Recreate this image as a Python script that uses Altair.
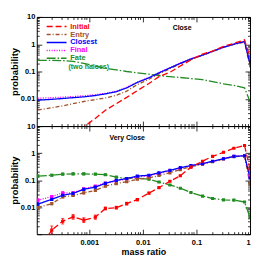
import altair as alt
import pandas as pd

FONT = "Liberation Sans"
W = 215
H_TOP = 110
H_BOT = 109
x_domain = [0.000105, 1.0]
y_domain = [0.001, 10.0]

mass_ratio = [0.00011, 0.0002, 0.00032, 0.0005, 0.00079, 0.0013, 0.002, 0.0032,
              0.005, 0.0079, 0.013, 0.02, 0.032, 0.05, 0.079, 0.13, 0.2, 0.32,
              0.5, 0.79, 1.0]

series_names = ["Initial", "Entry", "Closest", "Final", "Fate"]
series_colors = ["#ff0000", "#a0522d", "#0000ff", "#ff00ff", "#228b22"]
series_dashes = [[6, 3], [4, 2, 1, 2], [1, 0], [1, 1.5], [9, 2, 1.5, 2]]

# "Close" panel, log10(probability)
close_initial = [-4.3, -3.8, -3.5, -3.25, -3.03, -2.72, -2.42, -2.18, -1.95, -1.70, -1.44,
                 -1.19, -1.03, -0.80, -0.57, -0.36, -0.25, -0.08, 0.03, 0.16, -0.5]
close_entry = [-2.41, -2.33, -2.26, -2.18, -2.10, -2.03, -1.97, -1.87, -1.72, -1.48, -1.28,
               -1.09, -0.90, -0.72, -0.56, -0.41, -0.27, -0.12, -0.01, 0.08, -0.85]
close_closest = [-2.05, -2.02, -1.99, -1.96, -1.93, -1.88, -1.82, -1.74, -1.60, -1.40, -1.23,
                 -1.05, -0.87, -0.70, -0.54, -0.40, -0.26, -0.11, 0.0, 0.10, -0.72]
close_final = [-1.98, -1.96, -1.94, -1.92, -1.89, -1.85, -1.80, -1.72, -1.58, -1.39, -1.22,
               -1.04, -0.86, -0.69, -0.53, -0.39, -0.25, -0.10, 0.01, 0.10, -0.68]
close_fate = [-0.59, -0.59, -0.60, -0.63, -0.70, -0.80, -0.88, -0.94, -1.00, -1.05, -1.10,
              -1.15, -1.19, -1.22, -1.26, -1.30, -1.37, -1.45, -1.51, -1.60, -2.1]

# "Very Close" panel, log10(probability)
vclose_initial = [-3.6, -2.85, -2.52, -2.36, -2.48, -2.37, -2.05, -2.02, -1.87, -1.72, -1.48,
                  -1.28, -1.04, -0.84, -0.52, -0.30, -0.12, 0.03, 0.18, 0.28, -0.6]
vclose_entry = [-2.01, -1.87, -1.62, -1.57, -1.47, -1.38, -1.22, -1.13, -1.06, -0.97, -0.92,
                -0.83, -0.73, -0.61, -0.50, -0.41, -0.32, -0.22, -0.13, -0.11, -1.15]
vclose_closest = [-1.89, -1.71, -1.56, -1.49, -1.34, -1.26, -1.12, -1.01, -0.94, -0.85, -0.82,
                  -0.73, -0.64, -0.54, -0.46, -0.39, -0.30, -0.21, -0.12, -0.10, -0.92]
vclose_final = [-1.74, -1.61, -1.47, -1.47, -1.32, -1.22, -1.11, -1.03, -0.96, -0.88, -0.84,
                -0.75, -0.66, -0.57, -0.48, -0.40, -0.31, -0.21, -0.12, -0.10, -0.85]
vclose_fate = [-0.85, -0.82, -0.78, -0.77, -0.77, -0.78, -0.80, -0.89, -0.94, -0.92, -0.97,
               -1.07, -1.18, -1.30, -1.46, -1.59, -1.68, -1.73, -1.74, -1.81, -2.38]

# error bar half-widths (dex)
vclose_err_initial = [0.3, 0.15, 0.1, 0.09, 0.09, 0.08, 0.06, 0.05, 0.05, 0.04, 0.035,
                      0.03, 0.025, 0.02, 0.02, 0.015, 0.015, 0.015, 0.015, 0.015, 0.03]
vclose_err_other = [0.05, 0.04, 0.035, 0.03, 0.03, 0.025, 0.025, 0.02, 0.02, 0.02, 0.015,
                    0.015, 0.015, 0.01, 0.01, 0.01, 0.01, 0.01, 0.01, 0.01, 0.02]

panel_titles = ["Close", "Very Close"]
panel_title_x = [0.054, 0.0051]
panel_title_y = [3.8, 3.76]

fate_note = "(two haloes)"
fate_note_x = 0.00041
fate_note_y = 0.145

draw_order = ["Fate", "Final", "Entry", "Closest", "Initial"]


def build_df(lists, errs=None):
    rows = []
    for name in draw_order:
        i = series_names.index(name)
        for j, (x, lv) in enumerate(zip(mass_ratio, lists[i])):
            row = {"x": x, "p": 10 ** lv, "series": name}
            if errs is not None:
                e = errs[i][j]
                row["lo"] = 10 ** (lv - e)
                row["hi"] = 10 ** (lv + e)
            rows.append(row)
    return pd.DataFrame(rows)


close_df = build_df([close_initial, close_entry, close_closest, close_final, close_fate])
vclose_df = build_df(
    [vclose_initial, vclose_entry, vclose_closest, vclose_final, vclose_fate],
    [vclose_err_initial] + [vclose_err_other] * 4,
)

# tick positions (a hair inside the domain ends so that they are kept)
x_ticks = [k * 10.0 ** e for e in range(-4, 0) for k in range(1, 10)] + [0.99999]
x_ticks = [v for v in x_ticks if v >= x_domain[0]]
y_ticks = [1.0001e-3] + [k * 10.0 ** e for e in range(-3, 1) for k in range(1, 10)][1:] + [9.999]

major_test = "abs(log(datum.value)/LN10 - round(log(datum.value)/LN10)) < 0.001"
tick_size = {"condition": {"test": major_test, "value": 5}, "value": 2.5}


def inner_axis(orient, offset, values):
    return alt.Axis(orient=orient, offset=offset, values=values, labels=False,
                    domain=False, grid=False, title=None, ticks=True,
                    tickSize=tick_size, tickColor="black", tickWidth=0.8,
                    minExtent=0)


def main_y_axis(values, expr):
    return alt.Axis(orient="left", values=values, labelExpr=expr, ticks=False,
                    tickSize=0, domain=False, grid=False, title="probability",
                    titleFontSize=9.5, titlePadding=1, labelPadding=2, labelOverlap=False,
                    labelFontSize=7.5, minExtent=0)


def main_x_axis(show):
    return alt.Axis(orient="bottom", values=[0.001, 0.01, 0.1, 0.99999],
                    labelExpr="format(datum.value, '.1~g')", ticks=False, labels=show,
                    tickSize=0, domain=False, grid=False,
                    title="mass ratio" if show else None,
                    titleFontSize=9, titlePadding=2, labelPadding=4, labelOverlap=False,
                    labelFontSize=7.5, minExtent=0)


color_expr = "".join(
    f"datum.value == '{n}' ? '{c}' : " for n, c in zip(series_names[:-1], series_colors[:-1])
) + f"'{series_colors[-1]}'"

legend = alt.Legend(
    title=None, orient="none", legendX=6.25, legendY=6,
    symbolType="M-5,0H5", symbolSize=16, symbolStrokeWidth=1.5, symbolOffset=10,
    labelOffset=10, labelFont=FONT, labelFontSize=7.5, labelFontWeight="bold",
    labelColor=alt.ExprRef(expr=color_expr),
    rowPadding=-5, padding=0, labelLimit=0,
)


def panel(df, H, idx, y_vals, y_expr, show_legend, markers):
    xs = alt.Scale(type="log", domain=x_domain, nice=False)
    ys = alt.Scale(type="log", domain=y_domain, nice=False)
    lg = legend if show_legend else None
    color = alt.Color("series:N", scale=alt.Scale(domain=series_names, range=series_colors), legend=lg)
    dash = alt.StrokeDash("series:N", scale=alt.Scale(domain=series_names, range=series_dashes), legend=lg)
    base = alt.Chart(df)

    lines = base.mark_line(clip=True, strokeWidth=1.3).encode(
        x=alt.X("x:Q", scale=xs, axis=main_x_axis(markers)),
        y=alt.Y("p:Q", scale=ys, axis=main_y_axis(y_vals, y_expr)),
        color=color, strokeDash=dash,
    )
    layers = [lines]
    if markers:
        col = alt.Color("series:N", scale=alt.Scale(domain=series_names, range=series_colors), legend=None)
        bars = base.mark_rule(clip=True, strokeWidth=1).encode(
            x=alt.X("x:Q", scale=xs, axis=None),
            y=alt.Y("lo:Q", scale=ys, axis=None), y2="hi:Q", color=col,
        )
        cap_lo = base.mark_tick(clip=True, orient="horizontal", size=3, thickness=1).encode(
            x=alt.X("x:Q", scale=xs, axis=None),
            y=alt.Y("lo:Q", scale=ys, axis=None), color=col,
        )
        cap_hi = base.mark_tick(clip=True, orient="horizontal", size=3, thickness=1).encode(
            x=alt.X("x:Q", scale=xs, axis=None),
            y=alt.Y("hi:Q", scale=ys, axis=None), color=col,
        )
        pts = base.mark_point(clip=True, shape="square", filled=True, size=10, opacity=1).encode(
            x=alt.X("x:Q", scale=xs, axis=None),
            y=alt.Y("p:Q", scale=ys, axis=None), color=col,
        )
        layers += [bars, cap_lo, cap_hi, pts]

    title_df = pd.DataFrame({"x": [panel_title_x[idx]], "p": [panel_title_y[idx]],
                             "label": [panel_titles[idx]]})
    txt = alt.Chart(title_df).mark_text(font=FONT, fontWeight="bold", fontSize=7,
                                        color="black", baseline="middle").encode(
        x=alt.X("x:Q", scale=xs, axis=None),
        y=alt.Y("p:Q", scale=ys, axis=None),
        text="label:N",
    )
    layers.append(txt)

    if show_legend:
        note_df = pd.DataFrame({"x": [fate_note_x], "p": [fate_note_y], "label": [fate_note]})
        note = alt.Chart(note_df).mark_text(font=FONT, fontWeight="bold", fontSize=7,
                                            color=series_colors[4], align="left",
                                            baseline="middle").encode(
            x=alt.X("x:Q", scale=xs, axis=None),
            y=alt.Y("p:Q", scale=ys, axis=None),
            text="label:N",
        )
        layers.append(note)

    ax1 = base.mark_point(opacity=0).encode(
        x=alt.X("x:Q", scale=xs, axis=inner_axis("top", -H, x_ticks)),
        y=alt.Y("p:Q", scale=ys, axis=inner_axis("right", -W, y_ticks)),
    )
    ax2 = base.mark_point(opacity=0).encode(
        x=alt.X("x:Q", scale=xs, axis=inner_axis("bottom", -H, x_ticks)),
        y=alt.Y("p:Q", scale=ys, axis=inner_axis("left", -W, y_ticks)),
    )
    layers += [ax1, ax2]
    return alt.layer(*layers).resolve_axis(x="independent", y="independent").properties(
        width=W, height=H)


top = panel(close_df, H_TOP, 0, [1.0001e-3, 0.01, 0.1, 1.0, 9.999],
            "(datum.value < 0.005 || datum.value > 5) ? '10' : format(datum.value, '.1~g')",
            True, False)
bottom = panel(vclose_df, H_BOT, 1, [0.01, 0.1, 1.0],
               "format(datum.value, '.1~g')", False, True)

chart = alt.vconcat(top, bottom, spacing=0, bounds="flush").resolve_scale(
    color="independent", strokeDash="independent"
).properties(
    padding={"left": 0, "top": 3, "right": 0, "bottom": 0}
).configure_view(
    stroke="black", strokeWidth=1
).configure_axis(
    minExtent=0, labelFont=FONT, labelFontWeight="bold", labelColor="black",
    titleFont=FONT, titleFontWeight="bold", titleColor="black"
)

chart.save("out.html", embed_options={"renderer": "svg", "actions": False})
